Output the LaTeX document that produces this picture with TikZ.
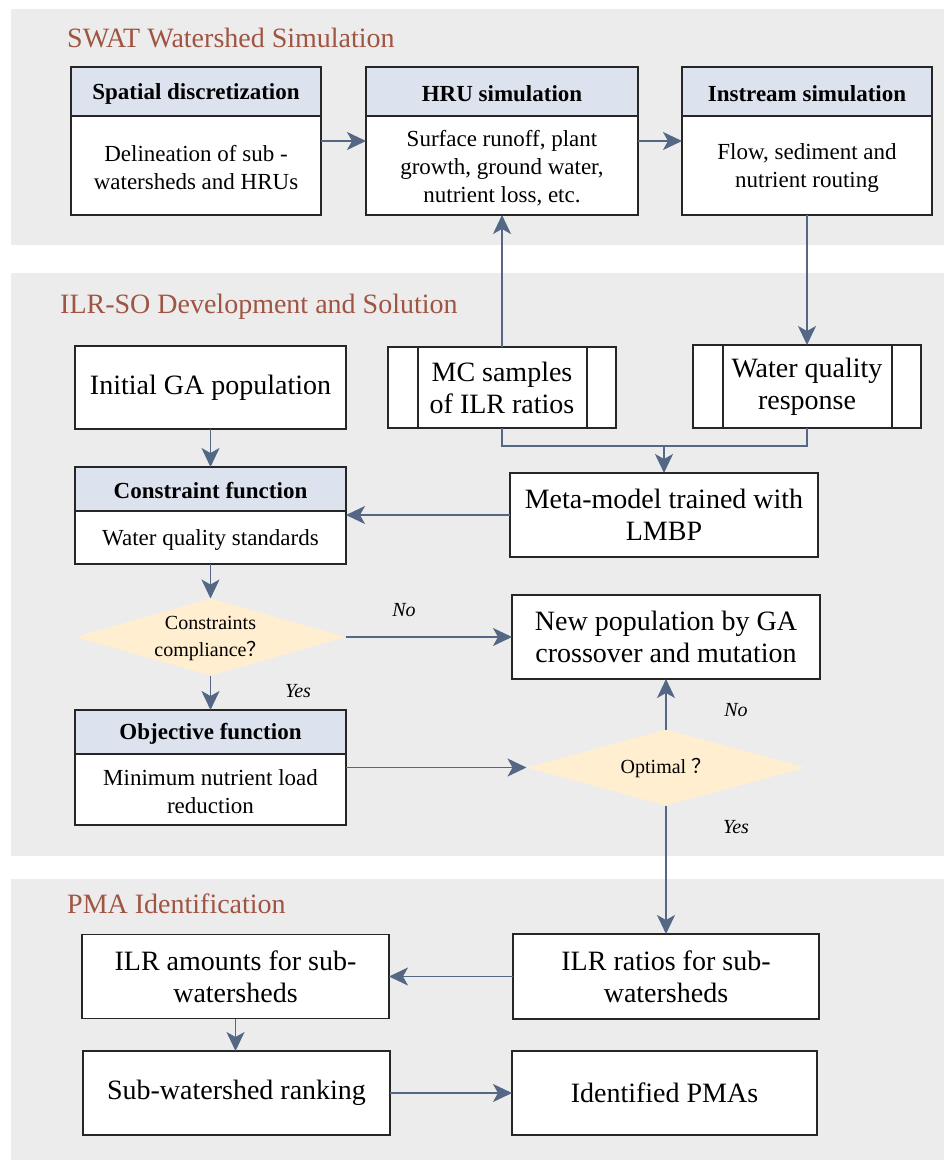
\documentclass[tikz,border=0pt]{standalone}
\usepackage{fontspec}
\setmainfont{Liberation Serif}
\newfontfamily\cjk{Noto Sans CJK SC}
\usetikzlibrary{shapes.geometric,arrows.meta,calc}

\definecolor{panelgray}{RGB}{236,236,236}
\definecolor{titlered}{RGB}{160,84,66}
\definecolor{hdrblue}{RGB}{220,227,238}
\definecolor{dfill}{RGB}{255,238,208}
\definecolor{arrowc}{RGB}{84,104,133}
\definecolor{borderc}{RGB}{38,38,38}

% header box: name, x1, y1, x2, y2, ydivider, header, body
\newcommand{\hdrbox}[8]{%
  \node[boxbase, minimum width={#4-#2}, minimum height={#5-#3}] (#1) at ({(#2+#4)/2},{(#3+#5)/2}) {};
  \fill[hdrfill] (#2,#3) rectangle (#4,#6);
  \draw[boxline] (#2,#6) -- (#4,#6);
  \draw[boxline] (#1.north west) rectangle (#1.south east);
  \node[hdrtext] (#1-h) at ({(#2+#4)/2},{(#3+#6)/2}) {#7};
  \node[bodytext] (#1-b) at ({(#2+#4)/2},{(#6+#5)/2}) {#8};
}

\begin{document}
\begin{tikzpicture}[x=1pt,y=-1pt,
  panel/.style={fill=panelgray},
  ptitle/.style={anchor=base west, text=titlered, font=\fontsize{28}{32}\selectfont, inner sep=0},
  boxbase/.style={rectangle, fill=white, outer sep=0, inner sep=0},
  boxline/.style={draw=borderc, line width=1.8pt},
  box/.style={rectangle, draw=borderc, line width=1.8pt, fill=white, outer sep=0, inner sep=0, align=center, font=\fontsize{28}{32}\selectfont},
  hdrfill/.style={fill=hdrblue},
  hdrtext/.style={font=\bfseries\fontsize{23}{27}\selectfont, inner sep=0, yshift=-2pt},
  bodytext/.style={font=\fontsize{23}{28}\selectfont, align=center, inner sep=0, yshift=-2.5pt},
  dec/.style={diamond, fill=dfill, inner sep=0, outer sep=0},
  dtext/.style={font=\fontsize{20}{27}\selectfont, align=center, inner sep=0, yshift=-1pt},
  lbl/.style={font=\itshape\fontsize{20}{24}\selectfont, inner sep=0},
  arr/.style={draw=arrowc, line width=1.8pt, -{Stealth[length=19pt,width=18pt,inset=5pt]}},
  ln/.style={draw=arrowc, line width=1.8pt},
]
\fill[white] (0,0) rectangle (944,1163);
\path[use as bounding box] (0,0) rectangle (944,1163);

% panels
\fill[panel] (11,9) rectangle (944,245);
\fill[panel] (11,273) rectangle (944,856);
\fill[panel] (11,879) rectangle (944,1160);

% titles
\node[ptitle] (t1) at (67,47) {SWAT Watershed Simulation};
\node[ptitle] (t2) at (60,313) {ILR-SO Development and Solution};
\node[ptitle] (t3) at (67,913) {PMA Identification};

% panel 1
\hdrbox{sd}{71}{67}{321}{215}{116}{Spatial discretization}{Delineation of sub -\\watersheds and HRUs}
\hdrbox{hru}{366}{67}{638}{215}{116}{HRU simulation}{Surface runoff, plant\\growth, ground water,\\nutrient loss, etc.}
\hdrbox{ins}{682}{67}{932}{215}{116}{Instream simulation}{Flow, sediment and\\nutrient routing}
\draw[arr] (sd) -- (hru);
\draw[arr] (hru) -- (ins);

% panel 2
\node[box, minimum width=271, minimum height=83] (init) at (210.5,387.5) {Initial GA population};
\node[box, minimum width=228, minimum height=81] (mc) at (502,387.5) {MC samples\\of ILR ratios};
\draw[boxline] ([xshift=30]mc.north west) -- ([xshift=30]mc.south west);
\draw[boxline] ([xshift=-29]mc.north east) -- ([xshift=-29]mc.south east);
\node[box, minimum width=228, minimum height=83] (wq) at (807,386.5) {Water quality\\response};
\draw[boxline] ([xshift=30]wq.north west) -- ([xshift=30]wq.south west);
\draw[boxline] ([xshift=-29]wq.north east) -- ([xshift=-29]wq.south east);

\draw[arr] (mc) -- (hru);
\draw[arr] (ins) -- (wq);
\coordinate (mrg) at (664,446);
\draw[ln] (mc.south) |- (mrg) -| (wq.south);
\node[box, minimum width=308, minimum height=84] (meta) at (664,515) {Meta-model trained with\\LMBP};
\draw[arr] (mrg) -- (meta.north);

\hdrbox{con}{75}{467}{346}{564}{511}{Constraint function}{Water quality standards}
\draw[arr] (meta.west) -- (meta.west -| con.east);
\draw[arr] (init) -- (con);

\node[dec, minimum width=270, minimum height=77] (d1) at (210.5,637) {};
\node[dtext] (d1t) at (210.5,637) {Constraints\\compliance{\cjk ？}};
\draw[arr] (con) -- (d1);

\node[box, minimum width=308, minimum height=84] (newp) at (666,637) {New population by GA\\crossover and mutation};
\draw[arr] (d1) -- (newp);
\node[lbl] (no1) at (404,610) {No};

\hdrbox{obj}{75}{710}{346}{825}{754}{Objective function}{Minimum nutrient load\\reduction}
\draw[arr] (d1) -- (obj);
\node[lbl] (yes1) at (298,691) {Yes};

\node[dec, minimum width=279, minimum height=76] (d2) at (666,767.5) {};
\node[dtext] (d2t) at (666,767.5) {Optimal {\cjk ？}};
\draw[arr] (obj) -- (d2);
\draw[arr] (d2) -- (newp);
\node[lbl] (no2) at (736,710) {No};

% panel 3
\node[box, minimum width=306, minimum height=85] (ratios) at (666,976.5) {ILR ratios for sub-\\watersheds};
\node[box, minimum width=307, minimum height=84] (amounts) at (235.5,976.5) {ILR amounts for sub-\\watersheds};
\node[box, minimum width=307, minimum height=84] (ranking) at (236.5,1093) {Sub-watershed ranking};
\node[box, minimum width=305, minimum height=84] (pmas) at (664.5,1093) {Identified PMAs};

\draw[arr] (d2) -- (ratios);
\node[lbl] (yes2) at (736,827) {Yes};
\draw[arr] (ratios.west) -- (ratios.west -| amounts.east);
\draw[arr] (amounts.south) -- (amounts.south |- ranking.north);
\draw[arr] (ranking.east) -- (ranking.east -| pmas.west);
\end{tikzpicture}
\end{document}
